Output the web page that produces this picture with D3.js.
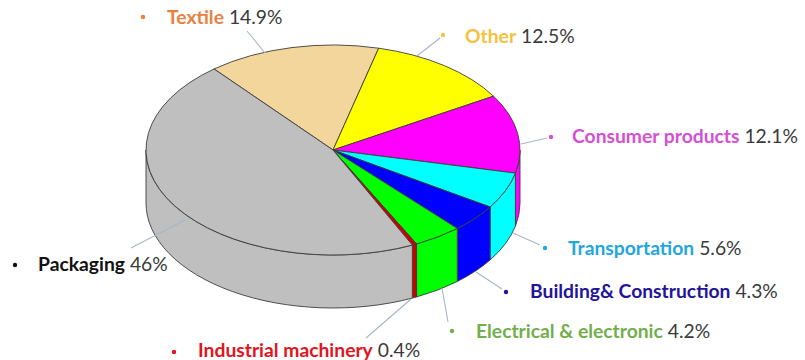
<!DOCTYPE html>
<html>
<head>
<meta charset="utf-8">
<script src="https://cdn.jsdelivr.net/npm/d3@7"></script>
<style>
  html, body { margin: 0; padding: 0; background: #ffffff; }
  svg { display: block; }
  text { font-family: Lato, "Open Sans", sans-serif; }
</style>
</head>
<body>
<svg id="chart" width="805" height="360"></svg>
<script>
// Market share by end-use sector (%), listed clockwise from the top-left
const categories = [
  "Textile", "Other", "Consumer products", "Transportation",
  "Building& Construction", "Electrical & electronic",
  "Industrial machinery", "Packaging"
];
const shares = [14.9, 12.5, 12.1, 5.6, 4.3, 4.2, 0.4, 46];
const valueLabels = ["14.9%", "12.5%", "12.1%", "5.6%", "4.3%", "4.2%", "0.4%", "46%"];

// Slice fills and label colours
const sliceColors = ["#F3D69C", "#FFFF00", "#FF00FF", "#00FFFF", "#0000FF", "#00FF00", "#CC0000", "#BFBFBF"];
const labelColors = ["#E9813F", "#F4C23E", "#D64FD3", "#22A6DE", "#22159B", "#72AE4C", "#E3141C", "#111111"];

// Label layout: bullet, text anchor and leader line (from pie edge to bullet)
const labelLayout = [
  { bx: 143, by: 17,  tx: 167, ty: 24,  line: [[265, 53], [247, 31]] },
  { bx: 443, by: 35,  tx: 465, ty: 43,  line: [[417, 56], [440, 38]] },
  { bx: 551, by: 137, tx: 572, ty: 143, line: [[521, 144], [547, 138]] },
  { bx: 545, by: 248, tx: 568, ty: 255, line: [[513, 233], [540, 245]] },
  { bx: 506, by: 292, tx: 530, ty: 298, line: [[476, 272], [502, 289]] },
  { bx: 452, by: 331, tx: 476, ty: 338, line: [[442, 288], [448, 322]] },
  { bx: 174, by: 352, tx: 198, ty: 357, line: [[411, 299], [366, 338]] },
  { bx: 15,  by: 265, tx: 38,  ty: 271, line: [[185, 220], [131, 248]] }
];

// Tilted-disc geometry
const cx = 333, cy = 150, rx = 187, ry = 105, depth = 53;
const startAngle = -39.5 * Math.PI / 180;

const svg = d3.select("#chart");

const pie = d3.pie()
  .sort(null)
  .value(d => d)
  .startAngle(startAngle)
  .endAngle(startAngle + 2 * Math.PI);

const arcs = pie(shares).map((d, i) => ({ ...d, i }));

// point on the rim for a d3 pie angle, optionally shifted down
const rim = (a, dy = 0) => [cx + rx * Math.sin(a), cy - ry * Math.cos(a) + dy];

// Front wall: only the part of each slice facing the viewer (angles π/2 .. 3π/2)
const frontLo = Math.PI / 2, frontHi = 3 * Math.PI / 2;
function wallPath(a0, a1) {
  const s = Math.max(a0, frontLo), e = Math.min(a1, frontHi);
  if (e <= s) return null;
  const p0 = rim(s), p1 = rim(e), p2 = rim(e, depth), p3 = rim(s, depth);
  const large = (e - s) > Math.PI ? 1 : 0;
  return `M${p0[0]},${p0[1]}` +
    `A${rx},${ry} 0 ${large} 1 ${p1[0]},${p1[1]}` +
    `L${p2[0]},${p2[1]}` +
    `A${rx},${ry} 0 ${large} 0 ${p3[0]},${p3[1]}Z`;
}

const outline = "#3c3c3c";

svg.append("g")
  .selectAll("path")
  .data(arcs.filter(d => wallPath(d.startAngle, d.endAngle)))
  .join("path")
  .attr("d", d => wallPath(d.startAngle, d.endAngle))
  .attr("fill", d => sliceColors[d.i])
  .attr("stroke", outline)
  .attr("stroke-width", 0.9)
  .attr("stroke-linejoin", "round");

// Top face: circular arcs squashed into the ellipse
const arcGen = d3.arc().innerRadius(0).outerRadius(rx);
svg.append("g")
  .attr("transform", `translate(${cx},${cy}) scale(1,${ry / rx})`)
  .selectAll("path")
  .data(arcs)
  .join("path")
  .attr("d", arcGen)
  .attr("fill", d => sliceColors[d.i])
  .attr("stroke", outline)
  .attr("stroke-width", 0.9)
  .attr("stroke-linejoin", "round")
  .attr("vector-effect", "non-scaling-stroke");

// Labels with leader lines
const labels = svg.append("g")
  .selectAll("g")
  .data(categories.map((c, i) => ({ name: c, value: valueLabels[i], color: labelColors[i], pos: labelLayout[i] })))
  .join("g");

labels.append("line")
  .attr("x1", d => d.pos.line[0][0]).attr("y1", d => d.pos.line[0][1])
  .attr("x2", d => d.pos.line[1][0]).attr("y2", d => d.pos.line[1][1])
  .attr("stroke", "#A9B4C6")
  .attr("stroke-width", 1.1);

labels.append("circle")
  .attr("cx", d => d.pos.bx).attr("cy", d => d.pos.by)
  .attr("r", 2.2)
  .attr("fill", d => d.color);

const txt = labels.append("text")
  .attr("x", d => d.pos.tx)
  .attr("y", d => d.pos.ty)
  .attr("font-size", 19.3);

txt.append("tspan")
  .attr("font-weight", 700)
  .attr("fill", d => d.color)
  .text(d => d.name);

txt.append("tspan")
  .attr("fill", "#3a3a3a")
  .text(d => " " + d.value);
</script>
</body>
</html>
